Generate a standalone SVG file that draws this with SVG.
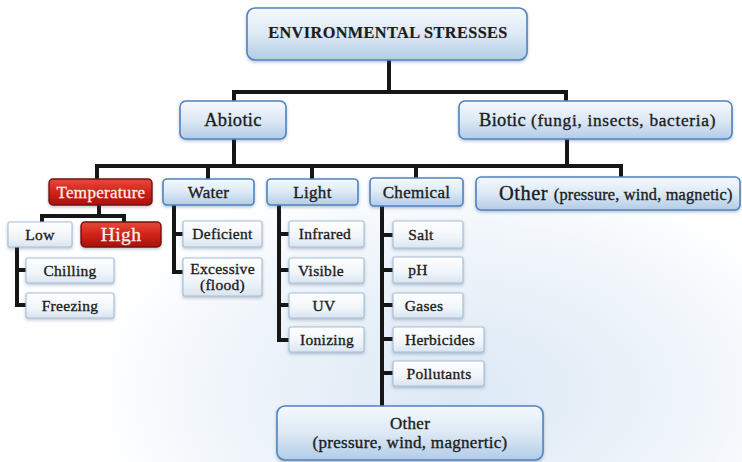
<svg xmlns="http://www.w3.org/2000/svg" width="742" height="462" viewBox="0 0 742 462">
<defs>
<linearGradient id="gBlue" x1="0" y1="0" x2="0" y2="1">
<stop offset="0" stop-color="#f6f9fd"/>
<stop offset="0.5" stop-color="#dde9f5"/>
<stop offset="1" stop-color="#b2cce6"/>
</linearGradient>
<linearGradient id="gLeaf" x1="0" y1="0" x2="0" y2="1">
<stop offset="0" stop-color="#ffffff"/>
<stop offset="0.6" stop-color="#f0f5fa"/>
<stop offset="1" stop-color="#d9e5f1"/>
</linearGradient>
<linearGradient id="gRed" x1="0" y1="0" x2="0" y2="1">
<stop offset="0" stop-color="#e8493c"/>
<stop offset="0.5" stop-color="#cf2419"/>
<stop offset="1" stop-color="#a8110c"/>
</linearGradient>
<radialGradient id="gBg" cx="0.62" cy="0.85" r="0.5">
<stop offset="0" stop-color="#dce9f5"/>
<stop offset="0.6" stop-color="#eef4fa"/>
<stop offset="1" stop-color="#ffffff"/>
</radialGradient>
<filter id="sh" x="-10%" y="-20%" width="120%" height="150%">
<feDropShadow dx="0" dy="1.5" stdDeviation="1.5" flood-color="#36506e" flood-opacity="0.35"/>
</filter>
<style>
.main{fill:url(#gBlue);stroke:#4f83c2;stroke-width:1.6;filter:url(#sh)}
.leaf{fill:url(#gLeaf);stroke:#a7bed6;stroke-width:1.1;filter:url(#sh)}
.red{fill:url(#gRed);stroke:#7a0c08;stroke-width:1.4;filter:url(#sh)}
text{font-family:"Liberation Serif","Times New Roman",serif;fill:#1c1c1c;stroke:#1c1c1c;stroke-width:0.35px;text-anchor:middle}
.t{font-size:16.3px;font-weight:bold;letter-spacing:0.4px;stroke-width:0.2px}
.l1{font-size:18.5px;letter-spacing:0.3px}
.l2{font-size:17px;letter-spacing:0.3px}
.lf{font-size:15.5px;letter-spacing:0.3px}
.st{text-anchor:start}
.w{fill:#fbf0e8;stroke:#fbf0e8;stroke-width:0.3px}
.con{fill:none;stroke:#161616;stroke-width:4;stroke-linejoin:miter}
</style>
</defs>
<rect x="0" y="0" width="742" height="462" fill="url(#gBg)"/>

<g id="connectors" class="con">
<path d="M389,60 V92"/>
<path d="M234,101 V92 H566 V101"/>
<path d="M234,139 V166"/>
<path d="M567,139 V166"/>
<path d="M97,179 V166 H621 V177"/>
<path d="M208,166 V179"/>
<path d="M312,166 V179"/>
<path d="M416,166 V178"/>
<path d="M99,205 V216"/>
<path d="M42,222 V216 H124 V222"/>
<path d="M17,247 V305 H26"/>
<path d="M17,270 H26"/>
<path d="M174,205 V272 H183"/>
<path d="M174,234 H183"/>
<path d="M279,205 V340 H289"/>
<path d="M279,234 H289"/>
<path d="M279,270 H289"/>
<path d="M279,305 H289"/>
<path d="M382,206 V406"/>
<path d="M382,235 H393"/>
<path d="M382,270 H393"/>
<path d="M382,305 H393"/>
<path d="M382,339 H393"/>
<path d="M382,373 H393"/>
</g>

<g id="n-title"><rect class="main" x="247" y="8" width="280" height="52" rx="8"/><text class="t" x="388" y="38">ENVIRONMENTAL STRESSES</text></g>

<g id="n-abiotic"><rect class="main" x="180" y="101" width="106" height="38" rx="6"/><text class="l1" x="233" y="126">Abiotic</text></g>
<g id="n-biotic"><rect class="main" x="459" y="101" width="273" height="38" rx="6"/><text class="st" x="479" y="126"><tspan style="font-size:18.5px;letter-spacing:0.3px">Biotic </tspan><tspan style="font-size:17.3px;letter-spacing:0.7px">(fungi, insects, bacteria)</tspan></text></g>

<g id="n-temperature"><rect class="red" x="49" y="179" width="103" height="26" rx="4"/><text class="l2 w" x="101" y="198">Temperature</text></g>
<g id="n-water"><rect class="main" x="163" y="179" width="91" height="26" rx="4"/><text class="l2" x="208.5" y="198">Water</text></g>
<g id="n-light"><rect class="main" x="267" y="179" width="91" height="26" rx="4"/><text class="l2" x="312.5" y="198">Light</text></g>
<g id="n-chemical"><rect class="main" x="370" y="178" width="93" height="28" rx="4"/><text class="l2" x="416.5" y="198">Chemical</text></g>
<g id="n-other-biotic"><rect class="main" x="476" y="177" width="264" height="33" rx="5"/><text class="st" x="499" y="200"><tspan style="font-size:20.5px;letter-spacing:0.5px">Other </tspan><tspan style="font-size:16.3px;letter-spacing:0.2px">(pressure, wind, magnetic)</tspan></text></g>

<g id="n-low"><rect class="leaf" x="8" y="222" width="64" height="25" rx="2"/><text class="lf" x="40" y="240">Low</text></g>
<g id="n-high"><rect class="red" x="81" y="222" width="80" height="25" rx="4"/><text class="w" x="121" y="241" style="font-size:19.5px;letter-spacing:0.4px">High</text></g>
<g id="n-chilling"><rect class="leaf" x="26" y="258" width="88" height="25" rx="2"/><text class="lf" x="70" y="276">Chilling</text></g>
<g id="n-freezing"><rect class="leaf" x="26" y="293" width="88" height="25" rx="2"/><text class="lf" x="70" y="311">Freezing</text></g>

<g id="n-deficient"><rect class="leaf" x="183" y="221" width="79" height="26" rx="2"/><text class="lf" x="222.5" y="239">Deficient</text></g>
<g id="n-excessive"><rect class="leaf" x="183" y="258" width="79" height="38" rx="2"/><text class="lf" x="222.5" y="274">Excessive</text><text class="lf" x="222.5" y="290">(flood)</text></g>

<g id="n-infrared"><rect class="leaf" x="289" y="221" width="75" height="26" rx="2"/><text class="lf" x="325" y="239">Infrared</text></g>
<g id="n-visible"><rect class="leaf" x="289" y="258" width="75" height="25" rx="2"/><text class="lf" x="321" y="276">Visible</text></g>
<g id="n-uv"><rect class="leaf" x="289" y="293" width="75" height="25" rx="2"/><text class="lf" x="324" y="311">UV</text></g>
<g id="n-ionizing"><rect class="leaf" x="289" y="327" width="75" height="25" rx="2"/><text class="lf" x="327" y="345">Ionizing</text></g>

<g id="n-salt"><rect class="leaf" x="393" y="221" width="70" height="27" rx="2"/><text class="lf" x="421" y="240">Salt</text></g>
<g id="n-ph"><rect class="leaf" x="393" y="257" width="70" height="26" rx="2"/><text class="lf" x="418" y="275">pH</text></g>
<g id="n-gases"><rect class="leaf" x="393" y="293" width="70" height="25" rx="2"/><text class="lf" x="424" y="311">Gases</text></g>
<g id="n-herbicides"><rect class="leaf" x="393" y="327" width="91" height="25" rx="2"/><text class="lf" x="440" y="345">Herbicides</text></g>
<g id="n-pollutants"><rect class="leaf" x="393" y="361" width="91" height="25" rx="2"/><text class="lf" x="439" y="379">Pollutants</text></g>

<g id="n-other-bottom"><rect class="main" x="277" y="406" width="266" height="54" rx="8"/><text class="l2" x="410" y="429">Other</text><text class="l2" x="410" y="448">(pressure, wind, magnertic)</text></g>
</svg>
